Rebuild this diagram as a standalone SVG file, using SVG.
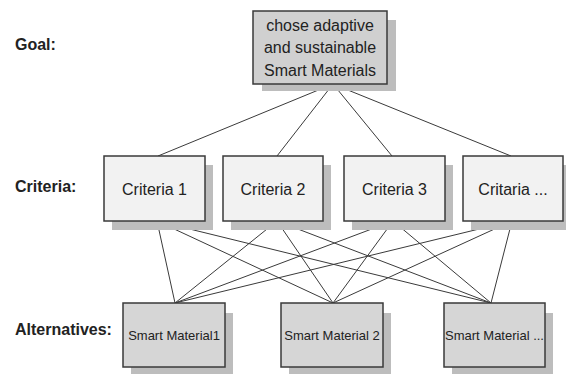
<svg xmlns="http://www.w3.org/2000/svg" width="566" height="374" viewBox="0 0 566 374">
<style>
.lbl{font-family:"Liberation Sans",Arial,sans-serif;font-size:16px;font-weight:bold;fill:#222}
.t{font-family:"Liberation Sans",Arial,sans-serif;font-size:16px;fill:#222;text-anchor:middle}
.ts{font-family:"Liberation Sans",Arial,sans-serif;font-size:13px;fill:#222;text-anchor:middle}
.sh{fill:#bdbdbd}
.goal{fill:#d0d0d0;stroke:#3a3a3a;stroke-width:1.5}
.crit{fill:#f2f2f2;stroke:#3a3a3a;stroke-width:1.5}
.alt{fill:#d6d6d6;stroke:#3a3a3a;stroke-width:1.5}
.c line{stroke:#3a3a3a;stroke-width:1}
</style>
<rect width="566" height="374" fill="#ffffff"/>
<text class="lbl" x="15" y="50">Goal:</text>
<text class="lbl" x="15" y="192">Criteria:</text>
<text class="lbl" x="15" y="335">Alternatives:</text>
<g class="c" id="connectors">
<line x1="333" y1="84" x2="158" y2="156"/>
<line x1="333" y1="84" x2="277" y2="156"/>
<line x1="333" y1="84" x2="392" y2="156"/>
<line x1="333" y1="84" x2="511" y2="156"/>
<line x1="157" y1="221" x2="175" y2="303"/>
<line x1="157" y1="221" x2="333" y2="303"/>
<line x1="157" y1="221" x2="491" y2="303"/>
<line x1="277" y1="221" x2="175" y2="303"/>
<line x1="277" y1="221" x2="333" y2="303"/>
<line x1="277" y1="221" x2="491" y2="303"/>
<line x1="393" y1="221" x2="175" y2="303"/>
<line x1="393" y1="221" x2="333" y2="303"/>
<line x1="393" y1="221" x2="491" y2="303"/>
<line x1="512" y1="221" x2="175" y2="303"/>
<line x1="512" y1="221" x2="333" y2="303"/>
<line x1="512" y1="221" x2="491" y2="303"/>
</g>
<g id="goal">
<rect class="sh" x="262" y="20" width="134" height="71"/>
<rect class="goal" x="253" y="11" width="134" height="73"/>
<text class="t" x="320" y="31">chose adaptive</text>
<text class="t" x="320" y="53">and sustainable</text>
<text class="t" x="320" y="76">Smart Materials</text>
</g>
<g id="criteria1">
<rect class="sh" x="112" y="165" width="101" height="65"/>
<rect class="crit" x="104" y="156" width="101" height="65"/>
<text class="t" x="154.5" y="195">Criteria 1</text>
</g>
<g id="criteria2">
<rect class="sh" x="231" y="165" width="100" height="65"/>
<rect class="crit" x="223" y="156" width="100" height="65"/>
<text class="t" x="273" y="195">Criteria 2</text>
</g>
<g id="criteria3">
<rect class="sh" x="352" y="165" width="101" height="65"/>
<rect class="crit" x="344" y="156" width="101" height="65"/>
<text class="t" x="394.5" y="195">Criteria 3</text>
</g>
<g id="criteria4">
<rect class="sh" x="471" y="165" width="100" height="65"/>
<rect class="crit" x="463" y="156" width="100" height="65"/>
<text class="t" x="513" y="195">Critaria ...</text>
</g>
<g id="alt1">
<rect class="sh" x="131" y="313" width="102" height="64"/>
<rect class="alt" x="123" y="303" width="102" height="64"/>
<text class="ts" x="174" y="340">Smart Material1</text>
</g>
<g id="alt2">
<rect class="sh" x="289" y="313" width="102" height="64"/>
<rect class="alt" x="281" y="303" width="102" height="64"/>
<text class="ts" x="332" y="340">Smart Material 2</text>
</g>
<g id="alt3">
<rect class="sh" x="452" y="313" width="101" height="64"/>
<rect class="alt" x="444" y="303" width="101" height="64"/>
<text class="ts" x="494.5" y="340">Smart Material ...</text>
</g>
</svg>
